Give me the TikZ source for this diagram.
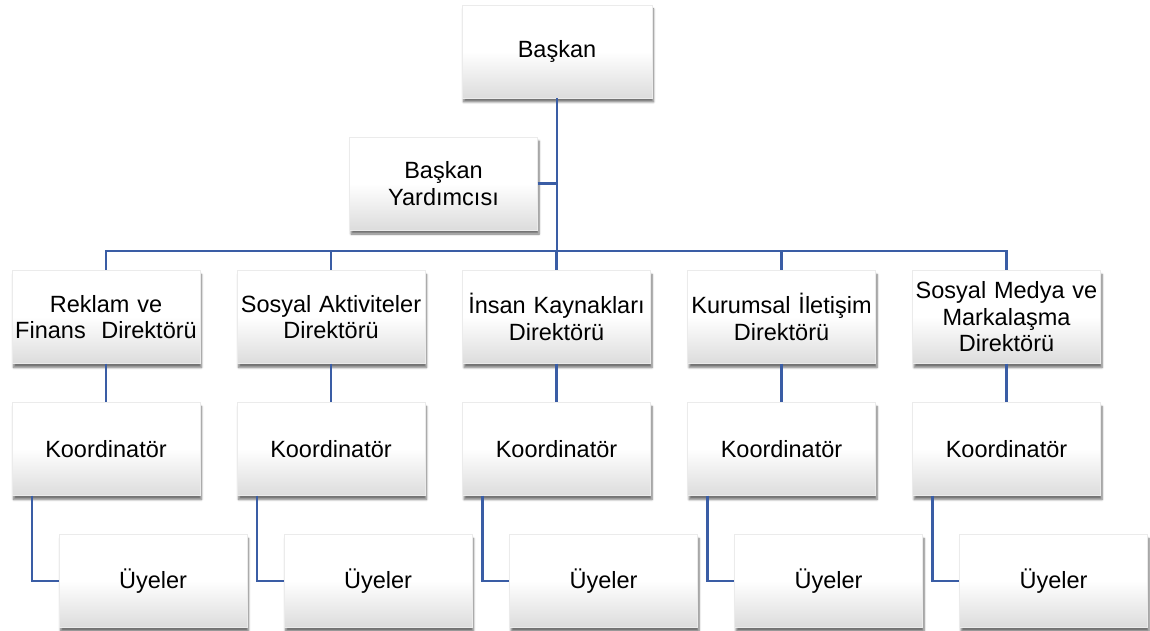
\documentclass[tikz,border=0pt]{standalone}
\usepackage{fontspec}
\setmainfont{Liberation Sans}
\usetikzlibrary{shadows.blur}
\definecolor{linkblue}{RGB}{58,93,165}
\definecolor{boxgray}{RGB}{220,220,220}
\tikzset{
  unit/.style={rectangle, minimum width=188pt, minimum height=93pt, inner sep=0pt,
    align=center, text width=186pt, font=\fontsize{23.5}{26.5}\selectfont,
    top color=white, bottom color=boxgray, middle color=white,
    draw=black!8, line width=0.4pt,
    blur shadow={shadow xshift=1.5pt, shadow yshift=-4pt, shadow blur steps=6, shadow opacity=55}},
  link/.style={draw=linkblue, line width=2.6pt}
}
\begin{document}
\begin{tikzpicture}[x=1pt, y=-1pt]
\useasboundingbox (0,0) rectangle (1150,631);

% top of the chart
\node[unit, minimum width=190pt] (baskan) at (557,51.5) {Başkan};
\node[unit] (yard) at (443.5,183.5) {Başkan\\Yardımcısı};
\coordinate (bar) at (557,251);

% directors
\node[unit] (d1) at (106,317) {Reklam ve\\Finans\ \ Direktörü};
\node[unit] (d2) at (331,317) {Sosyal Aktiviteler\\Direktörü};
\node[unit] (d3) at (556.5,317) {İnsan Kaynakları\\Direktörü};
\node[unit] (d4) at (781.5,317) {Kurumsal İletişim\\Direktörü};
\node[unit] (d5) at (1006.5,317) {Sosyal Medya ve\\Markalaşma\\Direktörü};

% coordinators
\node[unit] (k1) at (106,449) {Koordinatör};
\node[unit] (k2) at (331,449) {Koordinatör};
\node[unit] (k3) at (556.5,449) {Koordinatör};
\node[unit] (k4) at (781.5,449) {Koordinatör};
\node[unit] (k5) at (1006.5,449) {Koordinatör};

% members
\node[unit] (u1) at (153,581) {Üyeler};
\node[unit] (u2) at (378,581) {Üyeler};
\node[unit] (u3) at (603.5,581) {Üyeler};
\node[unit] (u4) at (828.5,581) {Üyeler};
\node[unit] (u5) at (1053.5,581) {Üyeler};

% connectors
\draw[link] (baskan.south) -- (bar);
\draw[link] (yard.east) -- (yard.east -| baskan.south);
\draw[link, line cap=rect] (bar -| d1.north) -- (bar -| d5.north);
\foreach \i in {1,...,5}{
  \draw[link] (bar -| d\i.north) -- (d\i.north);
  \draw[link] (d\i.south) -- (k\i.north);
  \draw[link] ([xshift=20pt]k\i.south west) |- (u\i.west);
}
\end{tikzpicture}
\end{document}
